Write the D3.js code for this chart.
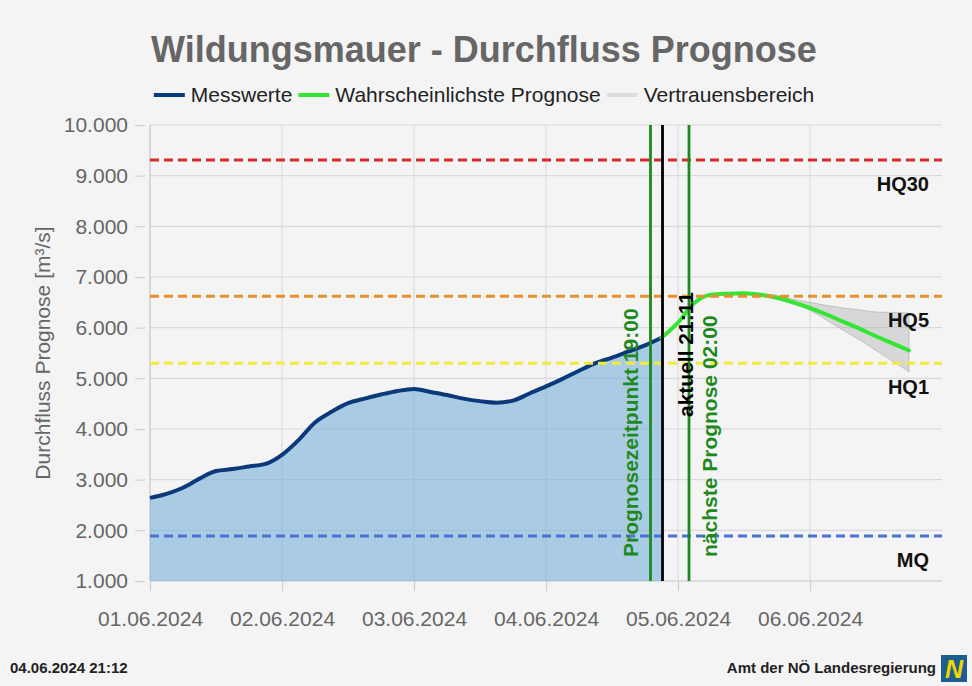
<!DOCTYPE html>
<html>
<head>
<meta charset="utf-8">
<script src="https://cdn.jsdelivr.net/npm/d3@7"></script>
<style>
body { margin: 0; background: #f4f4f4; }
svg { display: block; font-family: "Liberation Sans", Arial, Helvetica, sans-serif; }
</style>
</head>
<body>
<div id="chart"></div>
<script>
// Messwerte (3-stündlich)
const measuredTimes = [
    '01.06.2024 00:00', '01.06.2024 03:00', '01.06.2024 06:00', '01.06.2024 09:00',
    '01.06.2024 12:00', '01.06.2024 15:00', '01.06.2024 18:00', '01.06.2024 21:00',
    '02.06.2024 00:00', '02.06.2024 03:00', '02.06.2024 06:00', '02.06.2024 09:00',
    '02.06.2024 12:00', '02.06.2024 15:00', '02.06.2024 18:00', '02.06.2024 21:00',
    '03.06.2024 00:00', '03.06.2024 03:00', '03.06.2024 06:00', '03.06.2024 09:00',
    '03.06.2024 12:00', '03.06.2024 15:00', '03.06.2024 18:00', '03.06.2024 21:00',
    '04.06.2024 00:00', '04.06.2024 03:00', '04.06.2024 06:00', '04.06.2024 09:00',
    '04.06.2024 12:00', '04.06.2024 15:00', '04.06.2024 18:00', '04.06.2024 21:00'
];
const measuredValues = [
    2640, 2720, 2840, 3020, 3170, 3210, 3260, 3310,
    3490, 3780, 4130, 4340, 4510, 4600, 4680, 4750,
    4790, 4730, 4670, 4600, 4550, 4520, 4560, 4700,
    4840, 4990, 5150, 5300, 5410, 5530, 5650, 5800
];

// Wahrscheinlichste Prognose
const forecastTimes = [
    '04.06.2024 21:00', '05.06.2024 00:00', '05.06.2024 03:00', '05.06.2024 06:00',
    '05.06.2024 09:00', '05.06.2024 12:00', '05.06.2024 15:00', '05.06.2024 18:00',
    '05.06.2024 21:00', '06.06.2024 00:00', '06.06.2024 03:00', '06.06.2024 06:00',
    '06.06.2024 09:00', '06.06.2024 12:00', '06.06.2024 15:00', '06.06.2024 18:00'
];
const forecastValues = [
    5800, 6100, 6490, 6650, 6670, 6680, 6650, 6590,
    6500, 6390, 6260, 6120, 5980, 5830, 5690, 5550
];

// Vertrauensbereich
const bandTimes = [
    '05.06.2024 12:00', '05.06.2024 15:00', '05.06.2024 18:00', '05.06.2024 21:00',
    '06.06.2024 00:00', '06.06.2024 03:00', '06.06.2024 06:00', '06.06.2024 09:00',
    '06.06.2024 12:00', '06.06.2024 15:00', '06.06.2024 18:00'
];
const bandUpper = [6680, 6670, 6640, 6560, 6500, 6440, 6390, 6350, 6310, 6300, 6290];
const bandLower = [6680, 6640, 6560, 6460, 6340, 6150, 5950, 5760, 5550, 5340, 5130];

// Kennwerte
const thresholdNames = ['HQ30', 'HQ5', 'HQ1', 'MQ'];
const thresholdValues = [9310, 6620, 5300, 1890];
const thresholdColors = ['#d42a2a', '#e8902c', '#f0ec3a', '#4a70d2'];

// Zeitmarken
const markerNames = ['Prognosezeitpunkt 19:00', 'aktuell 21:11', 'nächste Prognose 02:00'];
const markerTimes = ['04.06.2024 19:00', '04.06.2024 21:11', '05.06.2024 02:00'];

const yTicks = [1000, 2000, 3000, 4000, 5000, 6000, 7000, 8000, 9000, 10000];
const xTicks = ['01.06.2024 00:00', '02.06.2024 00:00', '03.06.2024 00:00',
    '04.06.2024 00:00', '05.06.2024 00:00', '06.06.2024 00:00'];
const xDomain = ['01.06.2024 00:00', '07.06.2024 00:00'];

const legendNames = ['Messwerte', 'Wahrscheinlichste Prognose', 'Vertrauensbereich'];
const legendColors = ['#0b3a7a', '#33e633', '#dcdcdc'];

const parseTime = d3.timeParse('%d.%m.%Y %H:%M');
const deFormat = d3.formatLocale({ decimal: ',', thousands: '.', grouping: [3], currency: ['', ' €'] }).format(',');

const svgWidth = 972;
const svgHeight = 686;
const margin = { top: 125, right: 30, bottom: 105, left: 150 };

const svg = d3.select('#chart')
    .append('svg')
    .attr('width', svgWidth)
    .attr('height', svgHeight);

svg.append('rect')
    .attr('width', svgWidth)
    .attr('height', svgHeight)
    .attr('fill', '#f4f4f4');

const x = d3.scaleTime()
    .domain(xDomain.map(parseTime))
    .range([margin.left, svgWidth - margin.right]);

const y = d3.scaleLinear()
    .domain([1000, 10000])
    .range([svgHeight - margin.bottom, margin.top]);

const plotLeft = margin.left;
const plotRight = svgWidth - margin.right;
const plotBottom = svgHeight - margin.bottom;

// gridlines
svg.append('g')
    .selectAll('line')
    .data(yTicks)
    .enter()
    .append('line')
    .attr('x1', plotLeft)
    .attr('x2', plotRight)
    .attr('y1', d => y(d))
    .attr('y2', d => y(d))
    .attr('stroke', d => d === 1000 ? '#c4c4c4' : '#dadada')
    .attr('stroke-width', 1.2);

svg.append('g')
    .selectAll('line')
    .data(xTicks.map(parseTime))
    .enter()
    .append('line')
    .attr('x1', d => x(d))
    .attr('x2', d => x(d))
    .attr('y1', margin.top)
    .attr('y2', plotBottom)
    .attr('stroke', (d, i) => i === 0 ? '#c4c4c4' : '#dadada')
    .attr('stroke-width', 1.2);

// axes
const yAxis = svg.append('g')
    .attr('transform', `translate(${plotLeft - 5}, 0)`)
    .call(d3.axisLeft(y).tickValues(yTicks).tickSize(10).tickPadding(7).tickFormat(deFormat));

yAxis.select('.domain').remove();
yAxis.selectAll('line').attr('stroke', '#d0d0d0').attr('stroke-width', 1.2);
yAxis.selectAll('text')
    .attr('fill', '#666')
    .style('font-size', '21px')
    .style('font-family', '"Liberation Sans", Arial, sans-serif');

const xAxis = svg.append('g')
    .attr('transform', `translate(0, ${plotBottom})`)
    .call(d3.axisBottom(x).tickValues(xTicks.map(parseTime)).tickSize(10).tickPadding(20).tickFormat(d3.timeFormat('%d.%m.%Y')));

xAxis.select('.domain').remove();
xAxis.selectAll('line').attr('stroke', '#d0d0d0').attr('stroke-width', 1.2);
xAxis.selectAll('text')
    .attr('fill', '#666')
    .style('font-size', '21px')
    .style('font-family', '"Liberation Sans", Arial, sans-serif');

// Messwerte: area + line
const measured = measuredTimes.map((t, i) => ({ t: parseTime(t), v: measuredValues[i] }));

svg.append('path')
    .datum(measured)
    .attr('fill', '#7db1da')
    .attr('fill-opacity', 0.62)
    .attr('d', d3.area()
        .x(d => x(d.t))
        .y0(plotBottom)
        .y1(d => y(d.v))
        .curve(d3.curveMonotoneX));

svg.append('path')
    .datum(measured)
    .attr('fill', 'none')
    .attr('stroke', legendColors[0])
    .attr('stroke-width', 4)
    .attr('stroke-linejoin', 'round')
    .attr('d', d3.line()
        .x(d => x(d.t))
        .y(d => y(d.v))
        .curve(d3.curveMonotoneX));

// Vertrauensbereich
const band = bandTimes.map((t, i) => ({ t: parseTime(t), hi: bandUpper[i], lo: bandLower[i] }));

svg.append('path')
    .datum(band)
    .attr('fill', 'rgba(160, 160, 165, 0.35)')
    .attr('stroke', 'rgba(150, 150, 155, 0.45)')
    .attr('stroke-width', 1)
    .attr('d', d3.area()
        .x(d => x(d.t))
        .y0(d => y(d.lo))
        .y1(d => y(d.hi))
        .curve(d3.curveMonotoneX));

// Prognose
const forecast = forecastTimes.map((t, i) => ({ t: parseTime(t), v: forecastValues[i] }));

svg.append('path')
    .datum(forecast)
    .attr('fill', 'none')
    .attr('stroke', legendColors[1])
    .attr('stroke-width', 4)
    .attr('stroke-linecap', 'round')
    .attr('d', d3.line()
        .x(d => x(d.t))
        .y(d => y(d.v))
        .curve(d3.curveMonotoneX));

// Kennwerte (dashed)
svg.append('g')
    .selectAll('line')
    .data(thresholdValues)
    .enter()
    .append('line')
    .attr('x1', plotLeft)
    .attr('x2', plotRight)
    .attr('y1', d => y(d))
    .attr('y2', d => y(d))
    .attr('stroke', (d, i) => thresholdColors[i])
    .attr('stroke-width', 3)
    .attr('stroke-dasharray', '9,5');

svg.append('g')
    .selectAll('text')
    .data(thresholdValues)
    .enter()
    .append('text')
    .attr('x', plotRight - 13)
    .attr('y', d => y(d) + 31)
    .attr('text-anchor', 'end')
    .attr('font-size', '20px')
    .attr('font-weight', 'bold')
    .attr('fill', '#111')
    .text((d, i) => thresholdNames[i]);

// Zeitmarken
const markerColors = ['#1e8a1e', '#000', '#1e8a1e'];
const markerOffsets = [-13, 30, 28]; // label baseline relative to line
const markerStartY = [557, 417, 557];

svg.append('g')
    .selectAll('line')
    .data(markerTimes.map(parseTime))
    .enter()
    .append('line')
    .attr('x1', d => x(d))
    .attr('x2', d => x(d))
    .attr('y1', margin.top)
    .attr('y2', plotBottom)
    .attr('stroke', (d, i) => markerColors[i])
    .attr('stroke-width', 2.8);

svg.append('g')
    .selectAll('text')
    .data(markerTimes.map(parseTime))
    .enter()
    .append('text')
    .attr('transform', (d, i) => `translate(${x(d) + markerOffsets[i]}, ${markerStartY[i]}) rotate(-90)`)
    .attr('font-size', '21px')
    .attr('font-weight', 'bold')
    .attr('fill', (d, i) => markerColors[i])
    .text((d, i) => markerNames[i]);

// title
svg.append('text')
    .attr('x', 484)
    .attr('y', 62)
    .attr('text-anchor', 'middle')
    .attr('font-size', '36px')
    .attr('font-weight', 'bold')
    .attr('fill', '#666')
    .text('Wildungsmauer - Durchfluss Prognose');

// y label
svg.append('text')
    .attr('transform', `translate(50, 353) rotate(-90)`)
    .attr('text-anchor', 'middle')
    .attr('font-size', '21px')
    .attr('fill', '#666')
    .text('Durchfluss Prognose [m³/s]');

// legend
const legend = svg.append('g').attr('id', 'legend');
let lx = 0;
legendNames.forEach((name, i) => {
    legend.append('line')
        .attr('x1', lx)
        .attr('x2', lx + 31)
        .attr('y1', 95)
        .attr('y2', 95)
        .attr('stroke', legendColors[i])
        .attr('stroke-width', 4);
    const t = legend.append('text')
        .attr('x', lx + 37)
        .attr('y', 102)
        .attr('font-size', '21px')
        .attr('fill', '#222')
        .text(name);
    lx += 37 + t.node().getComputedTextLength() + 6;
});
legend.attr('transform', `translate(${484 - (lx - 6) / 2}, 0)`);

// footer
svg.append('text')
    .attr('x', 10)
    .attr('y', 673)
    .attr('font-size', '15px')
    .attr('font-weight', 'bold')
    .attr('fill', '#222')
    .text('04.06.2024 21:12');

svg.append('text')
    .attr('x', 936)
    .attr('y', 673)
    .attr('text-anchor', 'end')
    .attr('font-size', '15px')
    .attr('font-weight', 'bold')
    .attr('fill', '#222')
    .text('Amt der NÖ Landesregierung');

const logo = svg.append('g').attr('transform', 'translate(941, 655)');
logo.append('rect')
    .attr('width', 26)
    .attr('height', 27)
    .attr('fill', '#1e5e8e');
logo.append('text')
    .attr('x', 13)
    .attr('y', 23)
    .attr('text-anchor', 'middle')
    .attr('font-size', '25px')
    .attr('font-weight', 'bold')
    .attr('font-style', 'italic')
    .attr('fill', '#f2d500')
    .text('N');
</script>
</body>
</html>
